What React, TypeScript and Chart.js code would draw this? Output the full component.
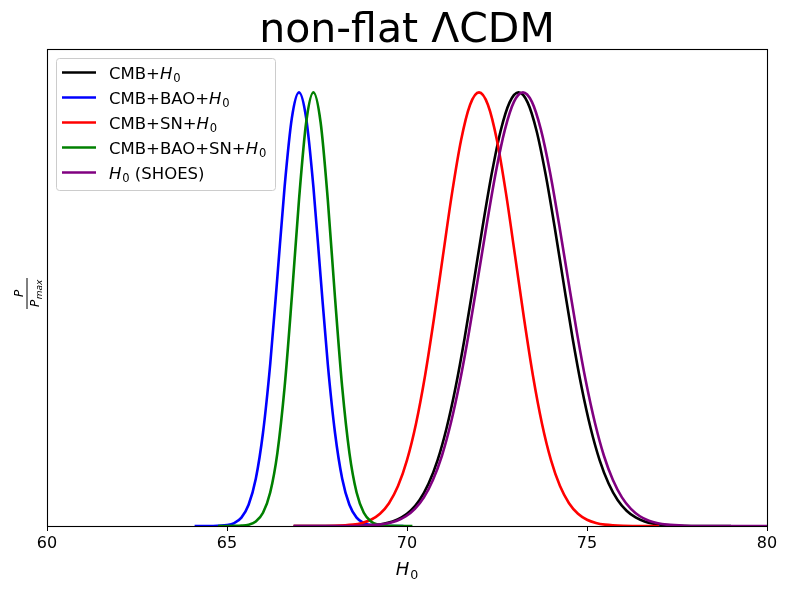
import { useEffect, useRef } from "react";
import { Chart, registerables } from "chart.js";

Chart.register(...registerables);

const FONT = "'DejaVu Sans', 'Liberation Sans', sans-serif";

const titleText = "non-flat ΛCDM";
const xTicks = [60, 65, 70, 75, 80];

const seriesNames = ["CMB+H_0", "CMB+BAO+H_0", "CMB+SN+H_0", "CMB+BAO+SN+H_0", "H_0 (SHOES)"];
const seriesColors = ["#000000", "#0000ff", "#ff0000", "#008000", "#800080"];

const cmbX = [66.85, 67.5, 68.1, 68.6, 69.1, 69.35, 69.6, 69.85, 70.1, 70.35, 70.6, 70.85, 71.1, 71.35, 71.6, 71.85, 72.1, 72.35, 72.6, 72.85, 73.1, 73.35, 73.6, 73.85, 74.1, 74.35, 74.6, 74.85, 75.1, 75.35, 75.6, 75.85, 76.1, 76.35, 76.6, 76.85, 77.1, 77.6, 78.1, 79.0];
const cmbY = [0, 0, 0.0001, 0.0005, 0.0026, 0.0054, 0.0105, 0.0197, 0.0353, 0.06, 0.098, 0.152, 0.226, 0.32, 0.433, 0.56, 0.69, 0.811, 0.911, 0.977, 1, 0.977, 0.911, 0.811, 0.69, 0.56, 0.433, 0.32, 0.226, 0.152, 0.098, 0.06, 0.0353, 0.0197, 0.0105, 0.0054, 0.0026, 0.0005, 0.0001, 0];

const baoX = [64.1, 64.6, 65.0, 65.2, 65.4, 65.6, 65.8, 66.0, 66.2, 66.4, 66.6, 66.8, 67.0, 67.2, 67.4, 67.6, 67.8, 68.0, 68.2, 68.4, 68.6, 68.8, 69.0, 69.4, 69.9];
const baoY = [0, 0.0001, 0.0021, 0.0068, 0.0194, 0.049, 0.109, 0.215, 0.373, 0.575, 0.782, 0.94, 1, 0.94, 0.782, 0.575, 0.373, 0.215, 0.109, 0.049, 0.0194, 0.0068, 0.0021, 0.0001, 0];

const snX = [66.85, 67.5, 68.0, 68.5, 68.75, 69.0, 69.25, 69.5, 69.75, 70.0, 70.25, 70.5, 70.75, 71.0, 71.25, 71.5, 71.75, 72.0, 72.25, 72.5, 72.75, 73.0, 73.25, 73.5, 73.75, 74.0, 74.25, 74.5, 74.75, 75.0, 75.25, 75.5, 76.0, 76.5, 77.0];
const snY = [0, 0.0001, 0.0005, 0.0031, 0.0069, 0.0144, 0.0283, 0.0526, 0.092, 0.152, 0.236, 0.346, 0.479, 0.624, 0.767, 0.889, 0.971, 1, 0.971, 0.889, 0.767, 0.624, 0.479, 0.346, 0.236, 0.152, 0.092, 0.0526, 0.0283, 0.0144, 0.0069, 0.0031, 0.0005, 0.0001, 0];

const baoSnX = [64.75, 65.0, 65.2, 65.4, 65.6, 65.8, 66.0, 66.2, 66.4, 66.6, 66.8, 67.0, 67.2, 67.4, 67.6, 67.8, 68.0, 68.2, 68.4, 68.6, 68.8, 69.0, 69.2, 69.4, 69.6, 70.15];
const baoSnY = [0, 0, 0.0002, 0.0008, 0.0031, 0.0105, 0.0305, 0.0771, 0.1687, 0.32, 0.527, 0.752, 0.931, 1, 0.931, 0.752, 0.527, 0.32, 0.1687, 0.0771, 0.0305, 0.0105, 0.0031, 0.0008, 0.0002, 0];

const shoesX = [66.85, 67.72, 68.22, 68.72, 69.22, 69.47, 69.72, 69.97, 70.22, 70.47, 70.72, 70.97, 71.22, 71.47, 71.72, 71.97, 72.22, 72.47, 72.72, 72.97, 73.22, 73.47, 73.72, 73.97, 74.22, 74.47, 74.72, 74.97, 75.22, 75.47, 75.72, 75.97, 76.22, 76.47, 76.72, 76.97, 77.22, 77.72, 78.22, 79.0, 80.0];
const shoesY = [0, 0, 0.0001, 0.0007, 0.0032, 0.0064, 0.0123, 0.0225, 0.0395, 0.066, 0.106, 0.162, 0.238, 0.333, 0.446, 0.571, 0.698, 0.817, 0.914, 0.978, 1, 0.978, 0.914, 0.817, 0.698, 0.571, 0.446, 0.333, 0.238, 0.162, 0.106, 0.066, 0.0395, 0.0225, 0.0123, 0.0064, 0.0032, 0.0007, 0.0001, 0, 0];

const seriesX = [cmbX, baoX, snX, baoSnX, shoesX];
const seriesY = [cmbY, baoY, snY, baoSnY, shoesY];

type Part = { t: string; italic?: boolean; sub?: boolean };

function parseLabel(s: string): Part[] {
  const out: Part[] = [];
  const pieces = s.split("H_0");
  pieces.forEach((p, i) => {
    if (p) out.push({ t: p });
    if (i < pieces.length - 1) {
      out.push({ t: "H", italic: true });
      out.push({ t: "0", sub: true });
    }
  });
  return out;
}

function drawRich(ctx: CanvasRenderingContext2D, x: number, y: number, parts: Part[], size: number) {
  let cx = x;
  ctx.textBaseline = "alphabetic";
  ctx.textAlign = "left";
  for (const p of parts) {
    const fs = p.sub ? size * 0.7 : size;
    ctx.font = `${p.italic ? "italic " : ""}${fs}px ${FONT}`;
    const dy = p.sub ? size * 0.22 : 0;
    ctx.fillText(p.t, cx, y + dy);
    cx += ctx.measureText(p.t).width + (p.italic ? size * 0.05 : 0);
  }
  return cx - x;
}

function measureRich(ctx: CanvasRenderingContext2D, parts: Part[], size: number) {
  let w = 0;
  for (const p of parts) {
    const fs = p.sub ? size * 0.7 : size;
    ctx.font = `${p.italic ? "italic " : ""}${fs}px ${FONT}`;
    w += ctx.measureText(p.t).width + (p.italic ? size * 0.05 : 0);
  }
  return w;
}

const decorPlugin = {
  id: "decor",
  afterDraw(chart: any) {
    const ctx: CanvasRenderingContext2D = chart.ctx;
    const a = chart.chartArea;
    ctx.save();
    // frame
    ctx.strokeStyle = "#000";
    ctx.lineWidth = 1.1;
    ctx.strokeRect(Math.round(a.left) + 0.5, Math.round(a.top) + 0.5, Math.round(a.right - a.left), Math.round(a.bottom - a.top));
    // title
    ctx.fillStyle = "#000";
    ctx.font = `41px ${FONT}`;
    ctx.textAlign = "center";
    ctx.textBaseline = "alphabetic";
    ctx.fillText(titleText, (a.left + a.right) / 2, 42);
    // x label
    const xl = parseLabel("H_0");
    const xw = measureRich(ctx, xl, 18);
    drawRich(ctx, (a.left + a.right) / 2 - xw / 2, 575, xl, 18);
    // y label: fraction P / P_max rotated
    ctx.save();
    ctx.translate(27, (a.top + a.bottom) / 2 + 6);
    ctx.rotate(-Math.PI / 2);
    ctx.font = `italic 12px ${FONT}`;
    ctx.textAlign = "center";
    ctx.fillText("P", 0, -4);
    ctx.lineWidth = 1;
    ctx.beginPath();
    ctx.moveTo(-15.5, 0);
    ctx.lineTo(15.5, 0);
    ctx.stroke();
    ctx.textAlign = "left";
    ctx.font = `italic 12px ${FONT}`;
    const pw = ctx.measureText("P").width;
    ctx.font = `italic 9px ${FONT}`;
    const mw = ctx.measureText("max").width;
    const start = -(pw + mw) / 2;
    ctx.font = `italic 12px ${FONT}`;
    ctx.fillText("P", start, 12);
    ctx.font = `italic 9px ${FONT}`;
    ctx.fillText("max", start + pw + 0.5, 14.5);
    ctx.restore();
    // legend
    const lx = 56, ly = 58, lw = 219, lh = 132;
    ctx.fillStyle = "rgba(255,255,255,0.8)";
    ctx.strokeStyle = "#cccccc";
    ctx.lineWidth = 1;
    ctx.beginPath();
    (ctx as any).roundRect(lx + 0.5, ly + 0.5, lw, lh, 3);
    ctx.fill();
    ctx.stroke();
    seriesNames.forEach((name, i) => {
      const cy = 72.5 + i * 25;
      ctx.strokeStyle = seriesColors[i];
      ctx.lineWidth = 2.6;
      ctx.beginPath();
      ctx.moveTo(62, cy);
      ctx.lineTo(96, cy);
      ctx.stroke();
      ctx.fillStyle = "#000";
      drawRich(ctx, 109, cy + 6, parseLabel(name), 16.5);
    });
    ctx.restore();
  },
};

export default function App() {
  const ref = useRef<HTMLCanvasElement | null>(null);
  useEffect(() => {
    if (!ref.current) return;
    const order = [5, 4, 3, 2, 1];
    const chart = new Chart(ref.current, {
      type: "line",
      data: {
        datasets: seriesNames.map((name, i) => ({
          label: name,
          data: seriesX[i].map((x, j) => ({ x, y: seriesY[i][j] })),
          borderColor: seriesColors[i],
          backgroundColor: seriesColors[i],
          borderWidth: 2.6,
          pointRadius: 0,
          fill: false,
          cubicInterpolationMode: "monotone" as const,
          order: order[i],
        })),
      },
      options: {
        animation: false,
        responsive: false,
        maintainAspectRatio: false,
        layout: { padding: { left: 0, right: 20, top: 49, bottom: 0 } },
        plugins: { legend: { display: false }, tooltip: { enabled: false }, title: { display: false } },
        scales: {
          x: {
            type: "linear",
            min: 60,
            max: 80,
            afterBuildTicks: (s: any) => {
              s.ticks = xTicks.map((v) => ({ value: v }));
            },
            afterFit: (s: any) => {
              s.height = 65;
            },
            ticks: { color: "#000", font: { family: FONT, size: 16 }, padding: 3, maxRotation: 0 },
            grid: { drawOnChartArea: false, tickLength: 5, color: "#000", lineWidth: 1 },
            border: { display: false },
          },
          y: {
            type: "linear",
            min: 0,
            max: 1.1,
            afterFit: (s: any) => {
              s.width = 47;
            },
            ticks: { display: false },
            grid: { display: false },
            border: { display: false },
          },
        },
      },
      plugins: [decorPlugin],
    });
    return () => chart.destroy();
  }, []);
  return (
    <div style={{ position: "fixed", left: 0, top: 0, width: 787, height: 591, background: "#fff" }}>
      <canvas ref={ref} width={787} height={591} style={{ width: 787, height: 591 }} />
    </div>
  );
}
